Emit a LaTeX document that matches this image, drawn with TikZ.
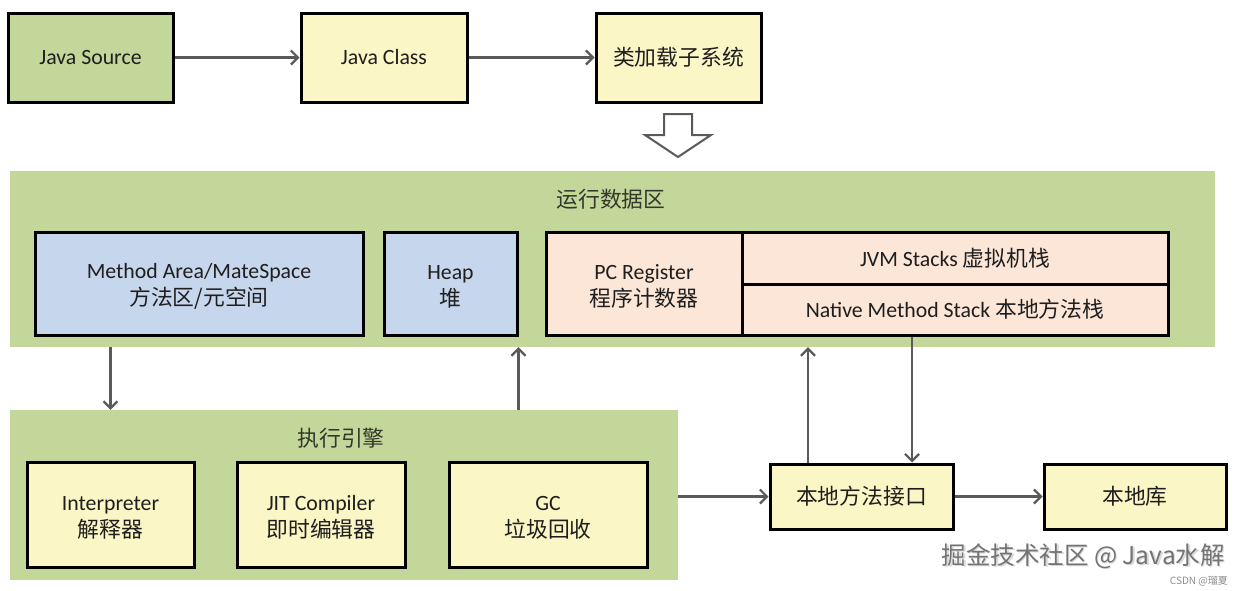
\documentclass[tikz,border=0pt]{standalone}
\usepackage{fontspec}
\setmainfont{Carlito}
\newfontfamily\cjk{Noto Sans CJK SC}
\usetikzlibrary{arrows.meta}
\definecolor{pgreen}{HTML}{C4D79B}
\definecolor{pyellow}{HTML}{FBF6C6}
\definecolor{pblue}{HTML}{C6D6EC}
\definecolor{ppeach}{HTML}{FCE6D8}
\definecolor{arrowgray}{HTML}{5A5A5A}
\definecolor{txt}{HTML}{1E1E1E}
\definecolor{ttl}{HTML}{33382A}
\tikzset{
  box/.style={draw=black, line width=3pt, inner sep=0pt, align=center, text=txt,
    font=\fontsize{21.8}{26.5}\selectfont},
  twoline/.style={text height=47pt},
  panel/.style={fill=pgreen, draw=none, inner sep=0pt},
  ttlstyle/.style={text=ttl, font=\fontsize{21.8}{26}\selectfont\cjk, inner sep=0pt},
  conn/.style={draw=arrowgray, line width=2.2pt, -{Straight Barb[length=7pt,width=14pt,line width=2.2pt]}},
}
\begin{document}
\begin{tikzpicture}[x=1pt,y=-1pt]
\useasboundingbox (0,0) rectangle (1245,590);
\fill[white] (0,0) rectangle (1245,590);

% top row
\node[box, fill=pgreen, minimum width=165pt, minimum height=89pt] (src) at (90.5,57.5) {Java Source};
\node[box, fill=pyellow, minimum width=166pt, minimum height=89pt] (cls) at (384,57.5) {Java Class};
\node[box, fill=pyellow, minimum width=165pt, minimum height=89pt] (cl) at (678.5,57.5) {\cjk 类加载子系统};
\draw[conn] (src.east) -- (cls.west);
\draw[conn] (cls.east) -- (cl.west);

% hollow arrow
\draw[arrowgray, fill=white, line width=2pt, line join=miter]
  (664,114) -- (692,114) -- (692,135) -- (711,135) -- (678,157) -- (645,135) -- (664,135) -- cycle;

% runtime data area
\node[panel, minimum width=1205pt, minimum height=176pt] (rda) at (612.5,259) {};
\node[ttlstyle] (rdat) at (611,199) {运行数据区};
\node[box, twoline, fill=pblue, minimum width=328pt, minimum height=103pt] (ma) at (199,283.5)
  {Method Area/MateSpace\\{\cjk 方法区/元空间}};
\node[box, twoline, fill=pblue, minimum width=133pt, minimum height=103pt] (heap) at (450.5,283.5)
  {Heap\\{\cjk 堆}};
\node[box, twoline, fill=ppeach, minimum width=196pt, minimum height=103pt] (pc) at (644,283.5)
  {PC Register\\{\cjk 程序计数器}};
\node[box, fill=ppeach, minimum width=426pt, minimum height=52pt] (jvm) at (955,258)
  {JVM Stacks {\cjk 虚拟机栈}};
\node[box, fill=ppeach, minimum width=426pt, minimum height=51pt] (nat) at (955,309.5)
  {Native Method Stack {\cjk 本地方法栈}};

% execution engine
\node[panel, minimum width=668pt, minimum height=170pt] (exe) at (344,495) {};
\node[ttlstyle] (exet) at (341,438) {执行引擎};
\node[box, twoline, fill=pyellow, minimum width=167pt, minimum height=105pt] (int) at (110.5,514.5)
  {Interpreter\\{\cjk 解释器}};
\node[box, twoline, fill=pyellow, minimum width=168pt, minimum height=105pt] (jit) at (321,514.5)
  {JIT Compiler\\{\cjk 即时编辑器}};
\node[box, twoline, fill=pyellow, minimum width=198pt, minimum height=105pt] (gc) at (548,514.5)
  {GC\\{\cjk 垃圾回收}};

% native interface and library
\node[box, fill=pyellow, minimum width=183pt, minimum height=65pt] (jni) at (861.5,496.5)
  {\cjk 本地方法接口};
\node[box, fill=pyellow, minimum width=182pt, minimum height=65pt] (lib) at (1135,496.5)
  {\cjk 本地库};

\coordinate (ux) at (808,0);
\coordinate (dx) at (912,0);

\draw[conn] (rda.south -| int) -- (exe.north -| int);
\draw[conn] (exe.north -| heap.east) -- (rda.south -| heap.east);
\draw[conn] (jni.north -| ux) -- (rda.south -| ux);
\draw[conn] (nat.south -| dx) -- (jni.north -| dx);
\draw[conn] (exe.east |- jni.west) -- (jni.west);
\draw[conn] (jni.east) -- (lib.west);

% watermark
\node[text=black!15, font=\fontsize{24.5}{28}\selectfont\cjk, inner sep=0pt, anchor=east] at (1226.5,557.5) {掘金技术社区 @ Java水解};
\node[text=black!55, font=\fontsize{24.5}{28}\selectfont\cjk, inner sep=0pt, anchor=east] (wm) at (1225,556) {掘金技术社区 @ Java水解};
\node[text=black!45, font=\fontsize{10}{12}\selectfont\cjk, inner sep=0pt, anchor=east] (wm2) at (1228,581) {CSDN @瑠夏};
\end{tikzpicture}
\end{document}
